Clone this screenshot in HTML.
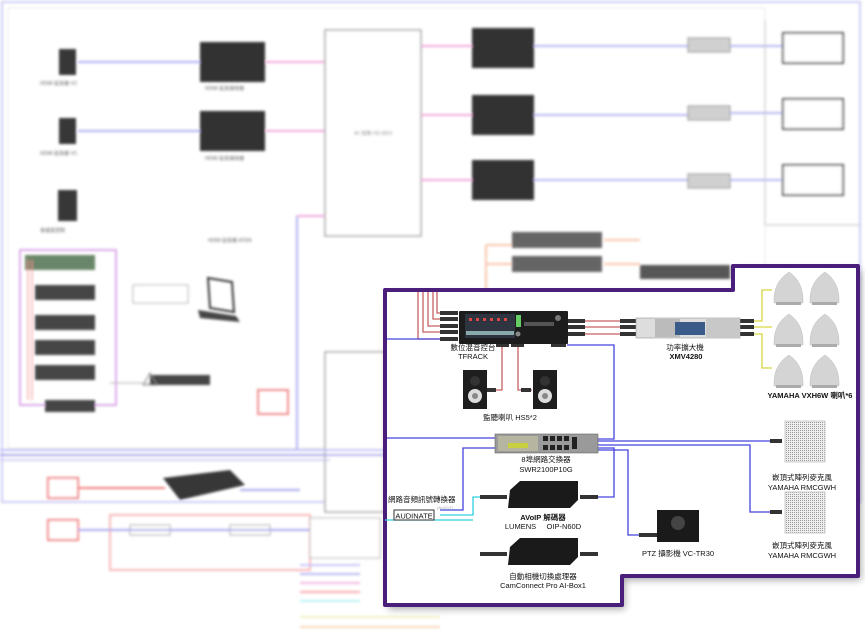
<!DOCTYPE html>
<html><head><meta charset="utf-8"><style>
html,body{margin:0;padding:0;background:#fff;width:865px;height:638px;overflow:hidden}
svg{display:block}
text{font-family:"Liberation Sans","Noto Sans CJK TC",sans-serif}
</style></head><body>
<svg width="865" height="638" viewBox="0 0 865 638" xmlns="http://www.w3.org/2000/svg">
<defs>
<filter id="b" x="-5%" y="-5%" width="110%" height="110%"><feGaussianBlur stdDeviation="1.2"/></filter>
<filter id="sh" x="-10%" y="-10%" width="120%" height="120%"><feGaussianBlur stdDeviation="4"/></filter>
<pattern id="mp" width="2" height="2" patternUnits="userSpaceOnUse"><rect width="2" height="2" fill="#eee"/><rect width="1" height="1" fill="#999"/></pattern>
</defs>
<g filter="url(#b)" opacity="0.9">
<rect x="2" y="2" width="858" height="500" fill="none" stroke="#c8c8f4" stroke-width="2"/>
<rect x="8" y="8" width="757" height="440" fill="none" stroke="#e6e6e6" stroke-width="1"/>
<rect x="59" y="49" width="17" height="26" fill="#222"/>
<rect x="59" y="118" width="17" height="26" fill="#222"/>
<rect x="58" y="190" width="19" height="31" fill="#222"/>
<line x1="78" y1="62" x2="200" y2="62" stroke="#a8a8f0" stroke-width="2"/>
<line x1="78" y1="131" x2="200" y2="131" stroke="#a8a8f0" stroke-width="2"/>
<rect x="200" y="42" width="65" height="40" fill="#1a1a1a"/>
<rect x="200" y="111" width="65" height="40" fill="#1a1a1a"/>
<line x1="266" y1="62" x2="325" y2="62" stroke="#f0a0d8" stroke-width="2"/>
<line x1="266" y1="131" x2="325" y2="131" stroke="#f0a0d8" stroke-width="2"/>
<rect x="325" y="30" width="96" height="206" fill="#fff" stroke="#999" stroke-width="1.5"/>
<text x="373" y="135" font-size="5" text-anchor="middle" fill="#777">4K 矩陣 HD-MD4</text>
<text x="40" y="85" font-size="5" fill="#555">HDMI 延長器 VC</text>
<text x="40" y="155" font-size="5" fill="#555">HDMI 延長器 VC</text>
<text x="40" y="232" font-size="5" fill="#555">會議室控制</text>
<text x="205" y="90" font-size="5" fill="#555">HDMI 延長接收器</text>
<text x="205" y="160" font-size="5" fill="#555">HDMI 延長接收器</text>
<text x="208" y="242" font-size="5" fill="#555">HDMI 延長器 ATEN</text>
<rect x="472" y="28" width="62" height="40" fill="#1a1a1a"/>
<rect x="472" y="95" width="62" height="40" fill="#1a1a1a"/>
<rect x="472" y="160" width="62" height="40" fill="#1a1a1a"/>
<line x1="421" y1="46" x2="472" y2="46" stroke="#f0a0d8" stroke-width="2"/>
<line x1="421" y1="115" x2="472" y2="115" stroke="#f0a0d8" stroke-width="2"/>
<line x1="421" y1="180" x2="472" y2="180" stroke="#f0a0d8" stroke-width="2"/>
<line x1="534" y1="46" x2="690" y2="46" stroke="#b0b0f0" stroke-width="2"/>
<line x1="534" y1="115" x2="690" y2="115" stroke="#b0b0f0" stroke-width="2"/>
<line x1="534" y1="180" x2="690" y2="180" stroke="#b0b0f0" stroke-width="2"/>
<rect x="688" y="38" width="42" height="14" fill="#ccc" stroke="#888"/>
<rect x="688" y="106" width="42" height="14" fill="#ccc" stroke="#888"/>
<rect x="688" y="174" width="42" height="14" fill="#ccc" stroke="#888"/>
<line x1="730" y1="46" x2="783" y2="46" stroke="#b0b0f0" stroke-width="2"/>
<line x1="730" y1="113" x2="783" y2="113" stroke="#b0b0f0" stroke-width="2"/>
<line x1="730" y1="180" x2="783" y2="180" stroke="#b0b0f0" stroke-width="2"/>
<rect x="783" y="33" width="60" height="30" fill="#fff" stroke="#444" stroke-width="2"/>
<rect x="783" y="99" width="60" height="30" fill="#fff" stroke="#444" stroke-width="2"/>
<rect x="783" y="165" width="60" height="30" fill="#fff" stroke="#444" stroke-width="2"/>
<line x1="765" y1="20" x2="765" y2="225" stroke="#bbb"/>
<line x1="765" y1="225" x2="860" y2="225" stroke="#bbb"/>
<rect x="512" y="232" width="90" height="16" fill="#555"/>
<rect x="512" y="256" width="90" height="16" fill="#555"/>
<rect x="640" y="265" width="90" height="14" fill="#444"/>
<path d="M486 245 H512 M486 245 V290 M486 264 H512" stroke="#f6c0a0" stroke-width="2" fill="none"/>
<path d="M604 240 H640 M604 264 H640" stroke="#f6c0a0" stroke-width="2" fill="none"/>
<line x1="297" y1="216" x2="325" y2="216" stroke="#f0a0d8" stroke-width="2"/>
<line x1="297" y1="216" x2="297" y2="450" stroke="#a8a8f0" stroke-width="2"/>
<rect x="20" y="250" width="96" height="155" fill="none" stroke="#d8a0e8" stroke-width="2"/>
<rect x="25" y="255" width="70" height="15" fill="#5a7a5a"/>
<rect x="35" y="285" width="60" height="15" fill="#333"/>
<rect x="35" y="315" width="60" height="15" fill="#333"/>
<rect x="35" y="340" width="60" height="15" fill="#333"/>
<rect x="35" y="365" width="60" height="15" fill="#333"/>
<line x1="28" y1="260" x2="28" y2="400" stroke="#f08080"/>
<line x1="32" y1="260" x2="32" y2="400" stroke="#f08080"/>
<rect x="45" y="400" width="50" height="12" fill="#333"/>
<rect x="133" y="285" width="55" height="18" fill="#fff" stroke="#aaa"/>
<path d="M208 278 L232 282 L234 312 L210 308 Z" fill="none" stroke="#222" stroke-width="2"/>
<path d="M198 310 L236 316 L240 322 L200 318 Z" fill="#333"/>
<rect x="150" y="375" width="60" height="10" fill="#333"/>
<polygon points="143,385 150,373 157,385" fill="none" stroke="#777"/>
<line x1="110" y1="383" x2="150" y2="383" stroke="#aaa"/>
<rect x="325" y="352" width="60" height="160" fill="#fff" stroke="#999" stroke-width="1.5"/>
<rect x="258" y="390" width="30" height="24" fill="none" stroke="#f08080" stroke-width="2"/>
<line x1="0" y1="450" x2="860" y2="450" stroke="#b8b8f8" stroke-width="2"/>
<line x1="0" y1="455" x2="860" y2="455" stroke="#a0a0ea" stroke-width="2"/>
<line x1="0" y1="460" x2="330" y2="460" stroke="#c0c0f0" stroke-width="1.5"/>
<rect x="48" y="478" width="30" height="20" fill="#fff" stroke="#f07070" stroke-width="2"/>
<rect x="48" y="520" width="30" height="20" fill="#fff" stroke="#f07070" stroke-width="2"/>
<path d="M163 478 L230 470 L245 485 L180 500 Z" fill="#222"/>
<line x1="78" y1="488" x2="165" y2="488" stroke="#f07070" stroke-width="2"/>
<line x1="240" y1="490" x2="300" y2="490" stroke="#a0a0ea" stroke-width="2"/>
<rect x="110" y="515" width="200" height="55" fill="none" stroke="#f8b0b0" stroke-width="2"/>
<rect x="130" y="525" width="40" height="10" fill="#fff" stroke="#999"/>
<rect x="230" y="525" width="40" height="10" fill="#fff" stroke="#999"/>
<line x1="78" y1="530" x2="330" y2="530" stroke="#a0a0ea" stroke-width="2"/>
<rect x="310" y="518" width="70" height="40" fill="#fff" stroke="#aaa"/>
<line x1="300" y1="565" x2="360" y2="565" stroke="#c0c0f8" stroke-width="2"/>
<line x1="300" y1="574" x2="360" y2="574" stroke="#b0b0f0" stroke-width="2"/>
<line x1="300" y1="583" x2="360" y2="583" stroke="#f0b0e0" stroke-width="2"/>
<line x1="300" y1="592" x2="360" y2="592" stroke="#f8a0a0" stroke-width="2"/>
<line x1="300" y1="601" x2="360" y2="601" stroke="#b0f0f0" stroke-width="2"/>
<line x1="300" y1="617" x2="440" y2="617" stroke="#f0f0c0" stroke-width="2"/>
<line x1="300" y1="627" x2="440" y2="627" stroke="#f8d0b0" stroke-width="2"/>
</g>

<path d="M385 290 H733 V266 H858 V576 H622 V605 H385 Z" fill="#000" opacity="0.35" filter="url(#sh)" transform="translate(3,4)"/>
<path d="M385 290 H733 V266 H858 V576 H622 V605 H385 Z" fill="#fff" stroke="#4a1f7c" stroke-width="4" stroke-linejoin="round"/>

<g fill="none" stroke-width="1.3">
<path d="M418 292 V339 H440 M423 292 V332 H440 M428 292 V326 H440 M433 292 V319 H440 M437 292 V313 H440" stroke="#c86060"/>
<path d="M585 321 H620 M585 327 H620 M585 334 H620" stroke="#c86060"/>
<path d="M502 346 V390 H488 M518 346 V390 H532" stroke="#c86060"/>
<path d="M753 321 H762 V290 H772 M753 327 H762 V327 H772 M753 334 H762 V368 H772" stroke="#d6d640"/>
<path d="M567 345 H614 V439 H598" stroke="#4444dd"/>
<path d="M387 339 H440" stroke="#4444dd"/>
<path d="M387 438 H495" stroke="#4444dd"/>
<path d="M598 441 H770" stroke="#4444dd"/>
<path d="M598 445 H750 V512 H770" stroke="#4444dd"/>
<path d="M598 448 H614 V497 H598" stroke="#4444dd"/>
<path d="M598 450 H628 V535 H640" stroke="#4444dd"/>
<path d="M495 448 H463 V510 H440" stroke="#4444dd"/>
<path d="M440 515 H473 V497 H482" stroke="#30d0e0"/>
<path d="M385 520 H473" stroke="#30d0e0"/>
</g>

<g fill="#333">
<rect x="440" y="311" width="18" height="4"/><rect x="440" y="317" width="18" height="4"/><rect x="440" y="324" width="18" height="4"/><rect x="440" y="330" width="18" height="4"/><rect x="440" y="337" width="18" height="4"/>
<rect x="568" y="319" width="17" height="4"/><rect x="568" y="325" width="17" height="4"/><rect x="568" y="332" width="17" height="4"/>
<rect x="620" y="319" width="16" height="4"/><rect x="620" y="325" width="16" height="4"/><rect x="620" y="332" width="16" height="4"/>
<rect x="740" y="319" width="14" height="4"/><rect x="740" y="325" width="14" height="4"/><rect x="740" y="332" width="14" height="4"/>
<rect x="496" y="343" width="13" height="4"/><rect x="511" y="343" width="13" height="4"/><rect x="551" y="343" width="15" height="4"/>
<rect x="486" y="388" width="10" height="4"/><rect x="521" y="388" width="10" height="4"/>
<rect x="770" y="439" width="12" height="4"/><rect x="770" y="510" width="12" height="4"/>
<rect x="480" y="495" width="27" height="4"/><rect x="580" y="495" width="18" height="4"/>
<rect x="480" y="552" width="27" height="4"/><rect x="580" y="552" width="18" height="4"/>
<rect x="639" y="533" width="18" height="4"/>
</g>

<rect x="459" y="311" width="109" height="33" fill="#1c1c1c" rx="1"/>
<rect x="465" y="314" width="50" height="24" fill="#2e3440"/>
<g fill="#d44"><rect x="469" y="318" width="3" height="3"/><rect x="476" y="318" width="3" height="3"/><rect x="483" y="318" width="3" height="3"/><rect x="490" y="318" width="3" height="3"/><rect x="497" y="318" width="3" height="3"/><rect x="504" y="318" width="3" height="3"/></g>
<rect x="466" y="331" width="48" height="4" fill="#8aa"/>
<rect x="516" y="315" width="5" height="12" fill="#6c6"/>
<rect x="524" y="322" width="30" height="4" fill="#555"/>
<circle cx="558" cy="318" r="3" fill="#777"/>
<circle cx="518" cy="334" r="2.5" fill="#888"/>
<rect x="636" y="318" width="104" height="20" fill="#ddd" stroke="#999" stroke-width="0.6"/>
<rect x="655" y="319" width="25" height="18" fill="#bbb"/>
<rect x="675" y="322" width="30" height="13" fill="#3a5a8a"/>
<rect x="706" y="319" width="33" height="18" fill="#c8c8c8"/>
<g fill="#d4d4d4" stroke="#c0c0c0" stroke-width="0.5">
<path d="M774 303 Q773 282 789 272 Q804 282 803 303 Z"/><path d="M810 303 Q809 282 825 272 Q840 282 839 303 Z"/>
<path d="M774 345 Q773 324 789 314 Q804 324 803 345 Z"/><path d="M810 345 Q809 324 825 314 Q840 324 839 345 Z"/>
<path d="M774 386 Q773 365 789 355 Q804 365 803 386 Z"/><path d="M810 386 Q809 365 825 355 Q840 365 839 386 Z"/>
</g>
<g fill="#ababab"><rect x="776" y="302" width="25" height="3"/><rect x="812" y="302" width="25" height="3"/><rect x="776" y="344" width="25" height="3"/><rect x="812" y="344" width="25" height="3"/><rect x="776" y="385" width="25" height="3"/><rect x="812" y="385" width="25" height="3"/></g>
<rect x="463" y="370" width="24" height="39" fill="#1e1e1e"/><circle cx="475" cy="381" r="5" fill="#333"/><circle cx="475" cy="396" r="7" fill="#ddd"/><circle cx="475" cy="396" r="3" fill="#888"/>
<rect x="533" y="370" width="24" height="39" fill="#1e1e1e"/><circle cx="545" cy="381" r="5" fill="#333"/><circle cx="545" cy="396" r="7" fill="#ddd"/><circle cx="545" cy="396" r="3" fill="#888"/>
<rect x="495" y="434" width="103" height="19" fill="#9a9a9a" stroke="#666" stroke-width="0.6"/>
<rect x="498" y="436" width="40" height="15" fill="#b6b6a0"/>
<rect x="508" y="443" width="20" height="5" fill="#c8d040"/>
<g fill="#222"><rect x="543" y="436" width="5" height="5"/><rect x="550" y="436" width="5" height="5"/><rect x="557" y="436" width="5" height="5"/><rect x="564" y="436" width="5" height="5"/><rect x="543" y="445" width="5" height="5"/><rect x="550" y="445" width="5" height="5"/><rect x="557" y="445" width="5" height="5"/><rect x="564" y="445" width="5" height="5"/><rect x="572" y="437" width="5" height="12"/></g>
<rect x="785" y="421" width="40" height="41" fill="url(#mp)" stroke="#ccc"/>
<rect x="785" y="492" width="40" height="41" fill="url(#mp)" stroke="#ccc"/>
<path d="M510 490 L520 481 L578 481 L578 500 L570 508 L508 508 Z" fill="#1a1a1a"/>
<path d="M510 547 L520 538 L578 538 L578 557 L570 565 L508 565 Z" fill="#1a1a1a"/>
<rect x="657" y="510" width="42" height="32" fill="#1a1a1a"/>
<circle cx="678" cy="523" r="7" fill="#444"/>
<rect x="394" y="510" width="40" height="10" fill="#fff" stroke="#333" stroke-width="1"/>
<text x="414" y="518.5" font-size="7.5" text-anchor="middle" fill="#111">AUDINATE</text>
<text x="437" y="509" font-size="4" fill="#aaa">(AUXCF)</text>

<g font-size="7.5" fill="#111" text-anchor="middle">
<text x="473" y="350">數位混音控台</text><text x="473" y="359">TFRACK</text>
<text x="685" y="350">功率擴大機</text><text x="686" y="359" font-weight="bold">XMV4280</text>
<text x="810" y="398" font-weight="bold">YAMAHA VXH6W 喇叭*6</text>
<text x="510" y="420">監聽喇叭 HS5*2</text>
<text x="546" y="462">8埠網路交換器</text><text x="546" y="472">SWR2100P10G</text>
<text x="802" y="480">嵌頂式陣列麥克風</text><text x="802" y="490">YAMAHA RMCGWH</text>
<text x="802" y="548">嵌頂式陣列麥克風</text><text x="802" y="558">YAMAHA RMCGWH</text>
<text x="543" y="520" font-weight="bold">AVoIP 解碼器</text><text x="543" y="529">LUMENS&#160;&#160;&#160;&#160; OIP-N60D</text>
<text x="678" y="556">PTZ 攝影機 VC-TR30</text>
<text x="543" y="579">自動相機切換處理器</text><text x="543" y="588">CamConnect Pro AI-Box1</text>
</g>
<text x="388" y="502" font-size="7.5" fill="#111">網路音頻訊號轉換器</text>
</svg>
</body></html>
